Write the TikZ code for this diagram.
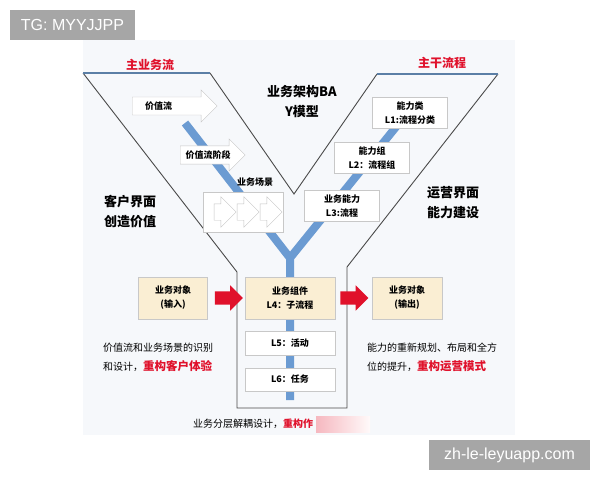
\documentclass[tikz,border=0pt]{standalone}
\usepackage{fontspec}
\setmainfont{Noto Sans CJK SC}
\newfontfamily\wmfont{Liberation Sans}
\usepackage{xcolor}
\usepackage{tikz}
\usetikzlibrary{positioning, shapes.arrows}
\definecolor{ystem}{HTML}{6B9BD2}
\definecolor{yline}{HTML}{4A4A4A}
\definecolor{ytop}{HTML}{5B7FA6}
\definecolor{yred}{HTML}{E0112B}
\definecolor{ybeige}{HTML}{FAEED3}
\definecolor{yborder}{HTML}{C8C8C8}
\definecolor{ybg}{HTML}{F6F8FB}
\definecolor{wmgray}{HTML}{A6A6A6}

\begin{document}
\begin{tikzpicture}[x=1pt, y=-1pt,
  lvbox/.style={rectangle, draw=yborder, fill=white, minimum width=75pt, minimum height=31pt,
    inner sep=2pt, align=center, font=\fontsize{9}{14}\selectfont\bfseries},
  objbox/.style={rectangle, draw=yborder, fill=ybeige, minimum height=42pt,
    inner sep=2pt, align=center, font=\fontsize{9}{14}\selectfont\bfseries},
  garrow/.style={single arrow, draw=gray!45, fill=white, single arrow head extend=7pt,
    inner ysep=4.5pt, font=\fontsize{9}{11}\selectfont\bfseries},
  redarrow/.style={single arrow, fill=yred, minimum height=28pt, single arrow head extend=6pt,
    inner ysep=6.5pt, inner xsep=0pt},
  biglabel/.style={align=center, font=\fontsize{13}{20}\selectfont\bfseries},
  redlabel/.style={text=yred, font=\fontsize{12}{14}\selectfont\bfseries},
  desc/.style={align=left, anchor=west, inner sep=0pt, font=\fontsize{10}{19}\selectfont},
  wmark/.style={fill=wmgray, text=white, inner sep=0pt, minimum height=30pt,
    font=\wmfont\fontsize{16}{18}\selectfont},
]
  \useasboundingbox (0,0) rectangle (600,480);
  \fill[ybg] (83,40) rectangle (515,435);

  % Y outline
  \draw[yline, line width=0.9pt] (83,73) -- (237,272) -- (237,408) -- (347,408) -- (347,267) -- (498,74);
  \draw[yline, line width=0.9pt] (377,74) -- (294,194) -- (210,73);
  \draw[ytop, line width=1.4pt] (83,73) -- (210,73) (377,74) -- (498,74);

  % blue stem
  \draw[ystem, line width=8pt, line join=round] (185,123) -- (290,258) -- (400,122)
    (290,258) -- (290,400);

  \node[redlabel] (main) at (150,65) {主业务流};
  \node[redlabel] (trunk) at (442,63) {主干流程};
  \node[biglabel] (ba) at (302,102) {业务架构BA\\Y模型};
  \node[biglabel] (cust) at (130,212) {客户界面\\创造价值};
  \node[biglabel] (ops) at (453,203) {运营界面\\能力建设};

  % left branch
  \node[garrow, minimum height=85pt, text width=50pt, align=left, anchor=tail] (vs) at (132,106) {价值流};
  \node[garrow, minimum height=65pt, anchor=tail] (vss) at (180,155) {价值流阶段};
  \node[font=\fontsize{9}{11}\selectfont\bfseries] (scnt) at (255,182) {业务场景};
  \node[rectangle, draw=yborder, fill=white, minimum width=80pt, minimum height=40pt] (scn) at (243,212) {};
  \foreach \x [count=\i] in {221,244,267}
    \node[garrow, minimum height=22pt, inner ysep=8pt, inner xsep=0pt] (s\i) at (\x,212) {};

  % right branch
  \node[lvbox] (l1) at (410,113) {能力类\\L1:流程分类};
  \node[lvbox] (l2) at (372,158) {能力组\\L2：流程组};
  \node[lvbox] (l3) at (342,206) {业务能力\\L3:流程};

  % stem
  \node[objbox, minimum width=90pt] (l4) at (290,298) {业务组件\\L4：子流程};
  \node[lvbox, minimum width=90pt, minimum height=24pt, below=12pt of l4] (l5) {L5：活动};
  \node[lvbox, minimum width=90pt, minimum height=23pt, below=12pt of l5] (l6) {L6：任务};
  \node[objbox, minimum width=69pt] (inobj) at (173,298) {业务对象\\(输入)};
  \node[objbox, minimum width=70pt] (outobj) at (407,298) {业务对象\\(输出)};
  \node[redarrow, right=7pt of inobj] (a1) {};
  \node[redarrow, right=5pt of l4] (a2) {};

  \node[desc] (dl) at (103,357) {价值流和业务场景的识别\\和设计，{\color{yred}\bfseries\fontsize{11.5}{19}\selectfont 重构客户体验}};
  \node[desc] (dr) at (367,357) {能力的重新规划、布局和全方\\位的提升，{\color{yred}\bfseries\fontsize{11.5}{19}\selectfont 重构运营模式}};
  \shade[left color=yred!30, right color=red!2] (316,416) rectangle (370,432);
  \node[desc] (bot) at (193,424) {业务分层解耦设计，{\color{yred}\bfseries 重构作}};

  % watermarks
  \node[wmark, minimum width=125pt] (tg) at (72.5,25) {TG: MYYJJPP};
  \node[wmark, minimum width=161pt] (site) at (509.5,455) {zh-le-leyuapp.com};
\end{tikzpicture}
\end{document}
